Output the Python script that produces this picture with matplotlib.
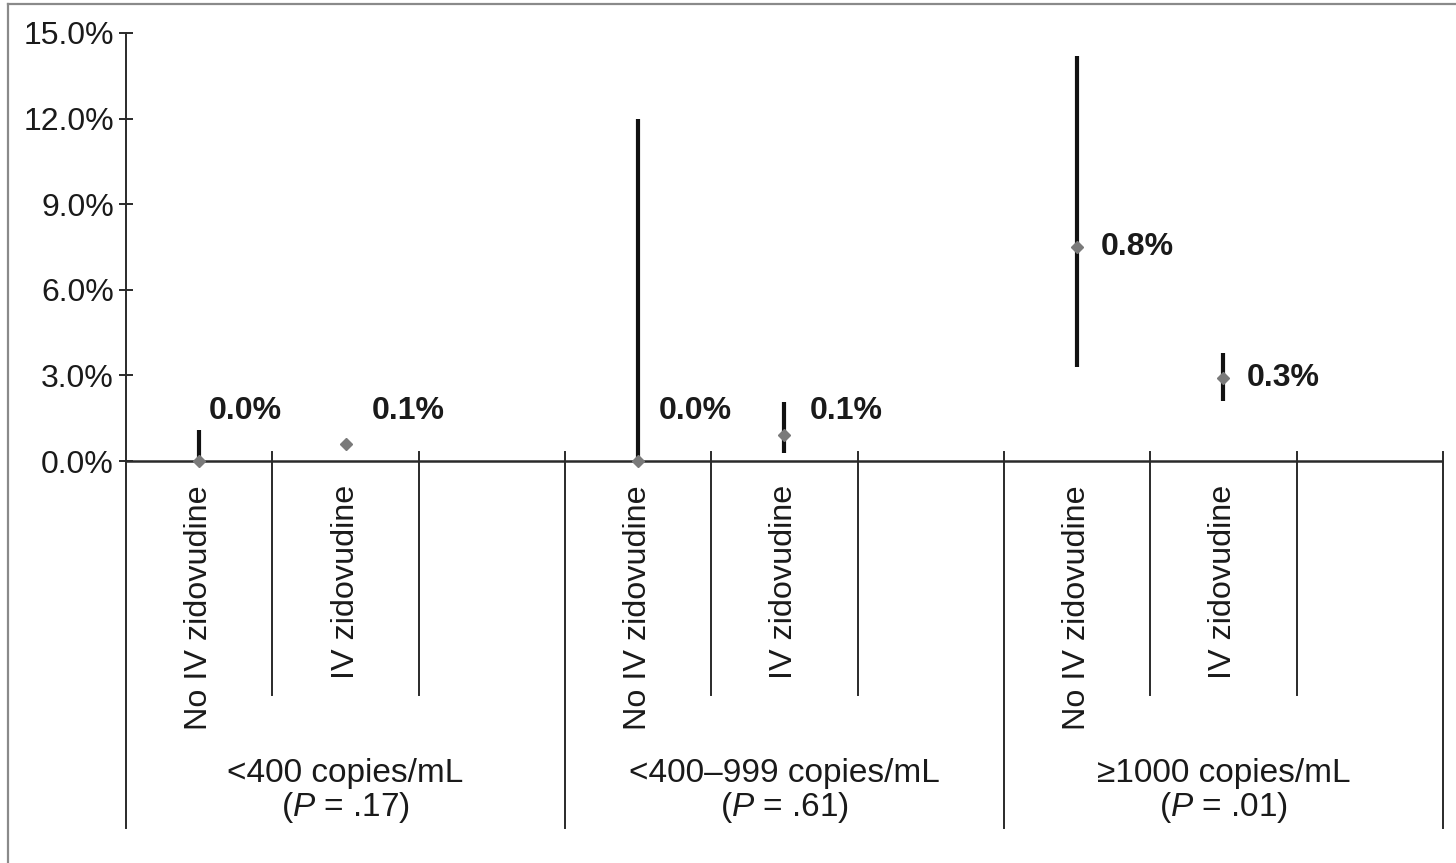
import matplotlib.pyplot as plt
from matplotlib.lines import Line2D

plt.rcParams['font.family'] = ['Liberation Sans', 'DejaVu Sans']
plt.rcParams['mathtext.fontset'] = 'custom'
plt.rcParams['mathtext.rm'] = 'Liberation Sans'
plt.rcParams['mathtext.it'] = 'Liberation Sans:italic'

# data (percent)
groups = ['<400 copies/mL', '<400\u2013999 copies/mL', '\u22651000 copies/mL']
p_values = ['.17', '.61', '.01']
arms = ['No IV zidovudine', 'IV zidovudine']
point = [0.0, 0.6, 0.0, 0.9, 7.5, 2.9]
lower = [0.0, 0.6, 0.0, 0.28, 3.3, 2.1]
upper = [1.1, 0.6, 12.0, 2.07, 14.2, 3.8]
labels = ['0.0%', '0.1%', '0.0%', '0.1%', '0.8%', '0.3%']
yticks = [0, 3, 6, 9, 12, 15]

W, H = 1456, 863
fig = plt.figure(figsize=(W / 100, H / 100), dpi=100)
ax = fig.add_axes([126 / W, 35 / H, 1317 / W, 795 / H])

slots_per_group = 3
ymin = -(828 - 461) / (428 / 15)
ax.set_xlim(0, slots_per_group * len(groups))
ax.set_ylim(ymin, 15)

line_col = '#2a2a2a'
xs = []
for g in range(len(groups)):
    for a in range(len(arms)):
        xs.append(g * slots_per_group + a + 0.5)

# error bars + points
for i, x in enumerate(xs):
    if upper[i] > lower[i]:
        ax.plot([x, x], [lower[i], upper[i]], color='#111111', lw=3.0,
                solid_capstyle='butt', zorder=3)
    ax.plot(x, point[i], marker='D', color='#7a7a7a', ms=6.5, zorder=4,
            clip_on=False)

# value labels
label_dx = [10, 26, 21, 25, 24, 23]
for i, x in enumerate(xs):
    ly = max(point[i], 1.75)
    ax.annotate(labels[i], (x, ly), xytext=(label_dx[i] * 0.72, 0),
                textcoords='offset points', ha='left', va='center',
                fontsize=23, fontweight='bold', color='#1a1a1a')

# zero line
ax.axhline(0, color=line_col, lw=1.8, zorder=2)

# category divider lines below the axis
small_bottom = -(695 - 461) / (428 / 15)
for g in range(len(groups)):
    for k in (1, 2):
        xd = g * slots_per_group + k
        ax.plot([xd, xd], [0.3, small_bottom], color=line_col, lw=1.4)
    xd = (g + 1) * slots_per_group
    ax.plot([xd, xd], [0.3, ymin], color=line_col, lw=1.4, clip_on=False)

# arm labels (rotated)
for i, x in enumerate(xs):
    ax.text(x, -0.84, arms[i % 2], rotation=90, ha='center', va='top',
            fontsize=23.3, color='#1a1a1a')

# group labels
for g, name in enumerate(groups):
    cx = g * slots_per_group + 1.5
    ax.text(cx, -10.94, name, ha='center', va='center', fontsize=24,
            color='#1a1a1a')
    ax.text(cx, -12.16, r'($\it{P}$ = ' + p_values[g] + ')', ha='center',
            va='center', fontsize=24, color='#1a1a1a')

# axes styling
for s in ('top', 'right', 'bottom'):
    ax.spines[s].set_visible(False)
ax.spines['left'].set_color(line_col)
ax.spines['left'].set_linewidth(1.4)
ax.set_xticks([])
ax.set_yticks(yticks)
ax.set_yticklabels([f'{t:.1f}%' for t in yticks])
ax.tick_params(axis='y', direction='inout', length=9.5, width=1.4,
               color=line_col, labelsize=23, labelcolor='#1a1a1a', pad=4)

# outer frame (top and left edges visible in the original)
fig.add_artist(Line2D([7.5 / W, 7.5 / W], [0, 1 - 4.5 / H], color='#8a8a8a',
                      lw=1.6, transform=fig.transFigure))
fig.add_artist(Line2D([7.5 / W, 1], [1 - 4.5 / H, 1 - 4.5 / H],
                      color='#8a8a8a', lw=1.6, transform=fig.transFigure))

plt.savefig('out.png', dpi=100)
